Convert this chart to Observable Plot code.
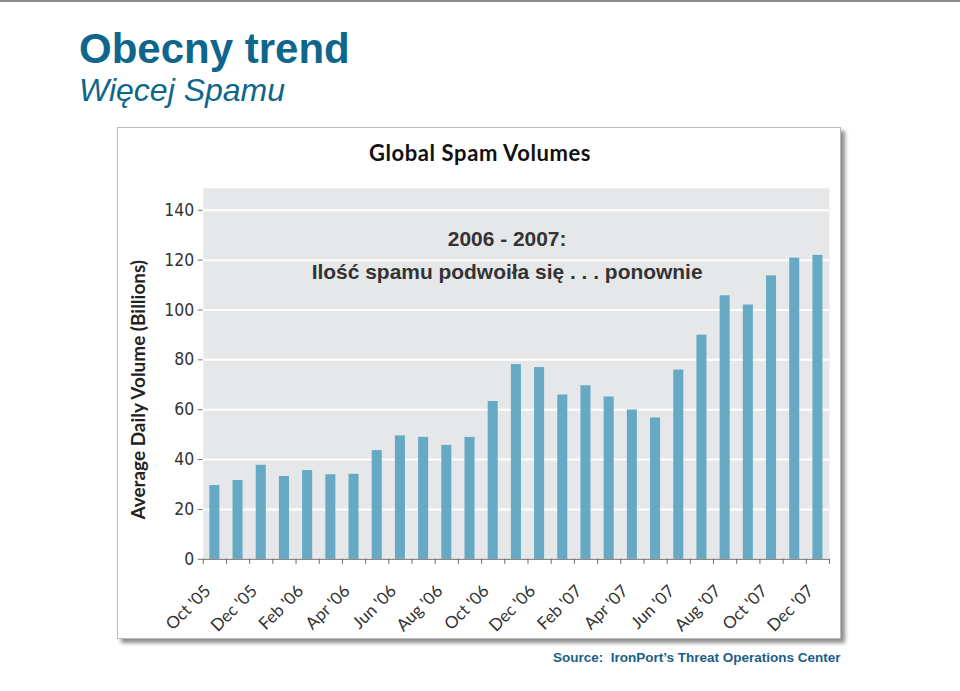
<!DOCTYPE html>
<html>
<head>
<meta charset="utf-8">
<script src="https://cdn.jsdelivr.net/npm/d3@7"></script>
<script src="https://cdn.jsdelivr.net/npm/@observablehq/plot@0.6"></script>
<style>
  html, body { margin: 0; padding: 0; background: #fff; }
  #page { position: relative; width: 960px; height: 691px; overflow: hidden; border-top: 2px solid #8a8a8a; box-sizing: border-box; }
  #h1 { position: absolute; left: 79px; top: 23px; font: bold 42px "Liberation Sans", Arial, sans-serif; color: #0f668c; white-space: nowrap; }
  #h2 { position: absolute; left: 79px; top: 70px; font: italic 32px "Liberation Sans", Arial, sans-serif; color: #0f668c; white-space: nowrap; }
  #panel { position: absolute; left: 117px; top: 125px; width: 724px; height: 512px; background: #fff; border: 1px solid #b9b9b9; box-sizing: border-box; box-shadow: 4px 4px 4px rgba(0,0,0,0.45); }
  #panel svg { position: absolute; left: -1px; top: -1px; overflow: visible; }
  #ptitle { position: absolute; left: 0; width: 724px; top: 11px; text-align: center; font: bold 22px Lato, "DejaVu Sans", sans-serif; letter-spacing: 0.6px; color: #111; }
  #source { position: absolute; left: 553px; top: 648px; font: bold 13.5px "Liberation Sans", Arial, sans-serif; color: #1b5e86; white-space: nowrap; }
</style>
</head>
<body>
<div id="page">
  <div id="h1">Obecny trend</div>
  <div id="h2">Więcej Spamu</div>
  <div id="panel"><div id="ptitle">Global Spam Volumes</div></div>
  <div id="source">Source:&nbsp; IronPort’s Threat Operations Center</div>
</div>
<script>
const months = ["Oct '05","Nov '05","Dec '05","Jan '06","Feb '06","Mar '06","Apr '06","May '06","Jun '06","Jul '06","Aug '06","Sep '06","Oct '06","Nov '06","Dec '06","Jan '07","Feb '07","Mar '07","Apr '07","May '07","Jun '07","Jul '07","Aug '07","Sep '07","Oct '07","Nov '07","Dec '07"];
const volumes = [29.6,31.6,37.7,33.2,35.6,33.9,34.1,43.6,49.5,48.9,45.7,48.9,63.3,78.1,76.9,65.9,69.6,65.1,59.9,56.7,75.9,89.9,105.7,102,113.7,120.8,121.9];
const yTicks = [0,20,40,60,80,100,120,140];
const xLabelIdx = [0,2,4,6,8,10,12,14,16,18,20,22,24,26];
const annotation = ["2006 - 2007:", "Ilość spamu podwoiła się . . . ponownie"];
const yTitle = "Average Daily Volume (Billions)";

const data = months.map((m, i) => ({i, m, v: volumes[i]}));
const font = 'Lato, "DejaVu Sans", sans-serif';

const chart = Plot.plot({
  width: 724,
  height: 512,
  marginLeft: 86,
  marginRight: 10,
  marginTop: 61,
  marginBottom: 79,
  style: {fontFamily: font, fontSize: "15px", color: "#333", background: "transparent", overflow: "visible"},
  x: {type: "linear", domain: [0, 27]},
  y: {domain: [0, 148.8]},
  marks: [
    Plot.frame({fill: "#e6e7e9", stroke: null}),
    Plot.gridY(yTicks, {stroke: "#fff", strokeOpacity: 1, strokeWidth: 2}),
    Plot.rectY(data, {x1: d => d.i, x2: d => d.i + 1, y: "v", fill: "#65a9c5", insetLeft: 6.6, insetRight: 6.6}),
    Plot.ruleY([0], {stroke: "#666", strokeWidth: 1}),
    Plot.axisY(yTicks, {tickSize: 5, tickPadding: 4, fontSize: 17.5, fontFamily: '"DejaVu Sans Condensed", "Liberation Sans Narrow", sans-serif', label: null, stroke: "#777", fill: "#333"}),
    Plot.axisX(d3.range(28), {tickSize: 5, tickFormat: () => "", label: null, stroke: "#666"}),
    Plot.axisX(xLabelIdx.map(i => i + 0.5), {tickSize: 0, tickPadding: 29, dx: -7, tickRotate: -45, fontSize: 17, tickFormat: x => months[Math.floor(x)], label: null, fill: "#333", style: "letter-spacing:0.4px"}),
    Plot.text([annotation[0]], {x: 13.1, y: 128.4, fontSize: 21, fontWeight: "bold", fontFamily: '"Liberation Sans", Arial, sans-serif', fill: "#333"}),
    Plot.text([annotation[1]], {x: 13.1, y: 115.2, fontSize: 21, fontWeight: "bold", fontFamily: '"Liberation Sans", Arial, sans-serif', fill: "#333"}),
    Plot.text([{t: yTitle, y: 68}], {text: "t", y: "y", frameAnchor: "left", textAnchor: "middle", rotate: -90, dx: -65, fontSize: 19, fontWeight: "bold", fill: "#222", style: "letter-spacing:2.6px"})
  ]
});
document.getElementById("panel").appendChild(chart);
</script>
</body>
</html>
